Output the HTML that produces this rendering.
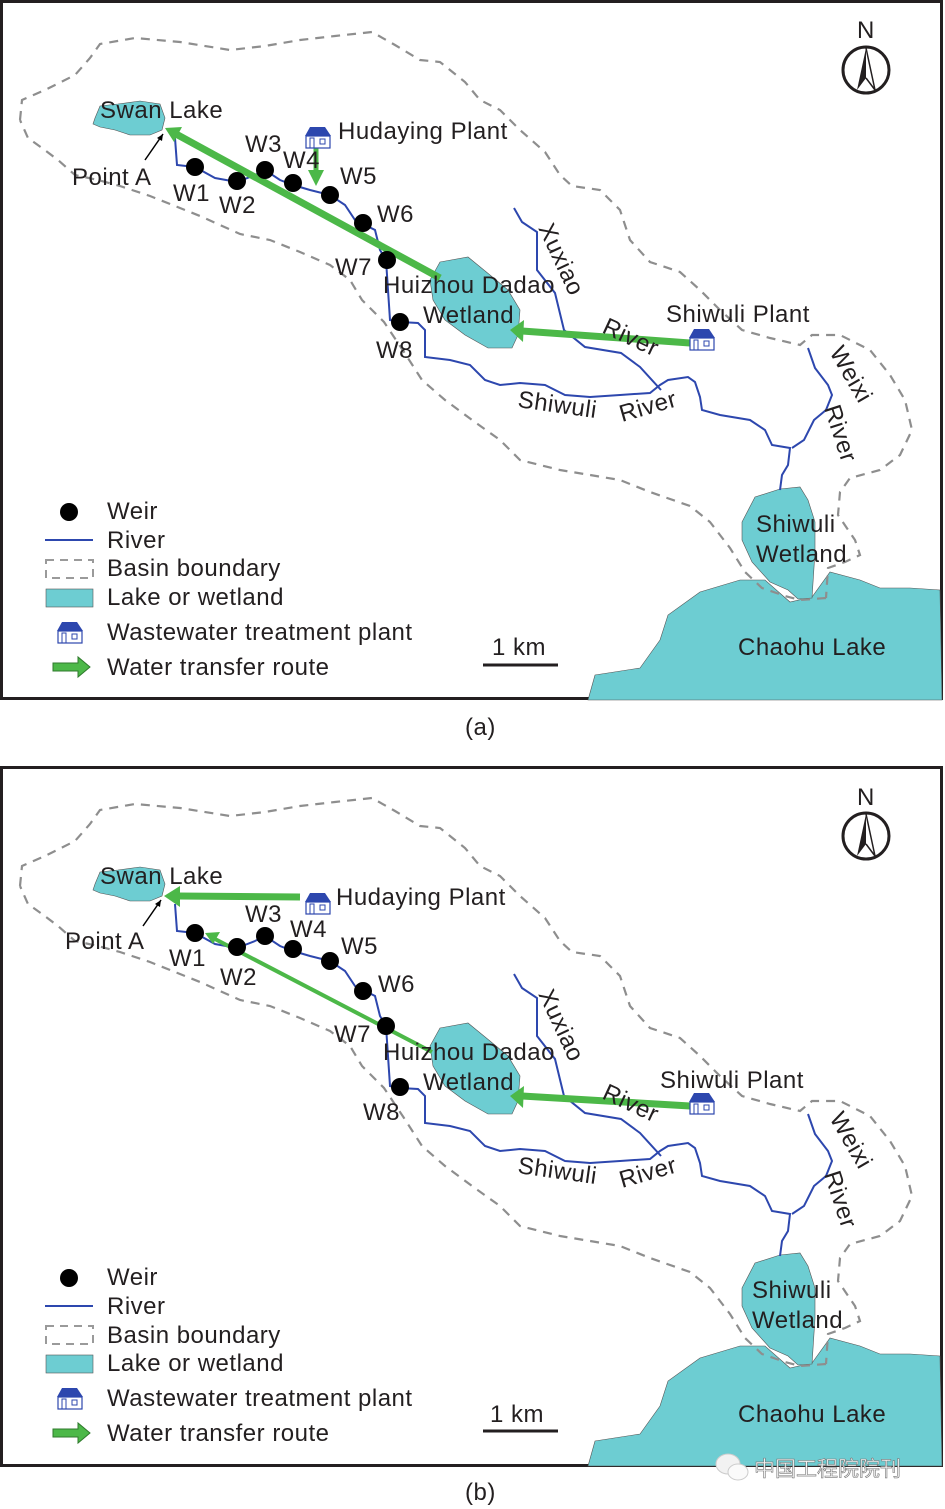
<!DOCTYPE html>
<html><head><meta charset="utf-8"><style>
html,body{margin:0;padding:0;background:#fff;}
svg{display:block;font-family:"Liberation Sans","Noto Sans CJK SC",sans-serif;}
text{fill:#231f20;font-size:24px;letter-spacing:0.5px;}
</style></head><body>
<svg width="945" height="1509" viewBox="0 0 945 1509" xmlns="http://www.w3.org/2000/svg">
<defs>
<g id="base">
  <path d="M588,700 L595,675 L640,668 L660,640 L668,615 L700,592 L740,580 L765,580 L790,602 L812,597 L830,572 L860,580 L880,588 L910,588 L940,590 L942,700 Z" fill="#6dcdd2" stroke="#555" stroke-width="0.6"/>
  <path d="M742,522 L755,497 L780,489 L800,487 L808,500 L815,522 L815,552 L812,598 L798,599 L788,590 L770,582 L752,562 L742,540 Z" fill="#6dcdd2" stroke="#555" stroke-width="0.6"/>
  <path d="M440,262 L468,257 L490,275 L508,290 L520,310 L518,335 L512,348 L488,348 L465,335 L445,320 L433,300 L430,280 Z" fill="#6dcdd2" stroke="#555" stroke-width="0.6"/>
  <path d="M95,118 L100,106 L118,104 L140,101 L160,104 L165,118 L162,130 L150,135 L130,135 L115,130 L100,127 L93,124 Z" fill="#6dcdd2" stroke="#555" stroke-width="0.6"/>
  <path d="M20,120 L22,100 L45,90 L75,75 L90,58 L100,44 L135,38 L180,42 L230,50 L265,46 L300,40 L335,36 L372,32 L395,45 L420,60 L440,62 L465,82 L480,100 L500,110 L520,130 L545,152 L560,175 L572,186 L600,190 L620,210 L630,240 L650,262 L680,272 L700,290 L720,310 L742,330 L770,338 L800,345 L812,335 L840,335 L870,350 L890,375 L905,400 L912,430 L900,455 L880,470 L850,478 L840,492 L838,515 L855,540 L860,555 L845,562 L828,568 L826,598 M826,598 L800,600 L785,596 L762,588 L745,572 L730,548 L710,522 L690,506 L650,492 L620,480 L560,470 L520,460 L500,440 L472,420 L445,400 L422,380 L404,352 L384,322 L362,300 L350,280 L330,265 L300,252 L270,240 L240,234 L200,216 L150,196 L120,186 L98,180 L75,175 L58,160 L42,148 L28,138 L20,120" fill="none" stroke="#8e8e8e" stroke-width="2.2" stroke-dasharray="9,7"/>
  <g fill="none" stroke="#2d47ae" stroke-width="2">
    <path d="M175,138 L177,165 L195,167 L215,178 L237,182 L255,175 L265,170 L280,180 L293,185 L310,190 L330,195 L345,205 L355,220 L365,225 L375,230 L380,250 L386,260 L388,290 L390,320 L400,322 L418,323 L425,330 L425,357 L450,360 L470,365 L485,380 L500,385 L520,383 L545,385 L565,395 L590,397 L620,395 L650,393 L660,385 L668,380 L688,377 L695,382 L700,397 L702,410 L720,415 L750,420 L765,430 L772,445 L790,448 L788,465 L782,475 L780,490"/>
    <path d="M514,208 L522,222 L537,232 L537,270 L555,293 L564,330 L585,347 L621,353 L640,367 L661,390"/>
    <path d="M808,348 L815,368 L828,385 L832,395 L826,410 L814,420 L804,440 L792,448"/>
  </g>
</g>
<g id="plant">
  <path d="M0,9 L5,0 L20,0 L26,9 Z" fill="#2d47ae"/>
  <rect x="1" y="9" width="24" height="12" fill="#fff" stroke="#2d47ae" stroke-width="1.2"/>
  <rect x="5" y="11" width="4" height="10" fill="none" stroke="#2d47ae" stroke-width="1"/>
  <rect x="15" y="12" width="5" height="5" fill="none" stroke="#2d47ae" stroke-width="1"/>
</g>
<g id="compass">
  <circle cx="866" cy="70" r="23" fill="none" stroke="#231f20" stroke-width="3"/>
  <path d="M866,48 L857,90 L866,78 Z" fill="#231f20"/>
  <path d="M866,48 L875,90 L866,78" fill="none" stroke="#231f20" stroke-width="1.5"/>
</g>
<g id="legend">
  <circle cx="69" cy="512" r="9" fill="#000"/>
  <line x1="45" y1="540" x2="93" y2="540" stroke="#2d47ae" stroke-width="2"/>
  <rect x="46" y="560" width="47" height="18" fill="none" stroke="#9a9a9a" stroke-width="2" stroke-dasharray="8,6"/>
  <rect x="46" y="589" width="47" height="18" fill="#6dcdd2" stroke="#555" stroke-width="0.6"/>
  <use href="#plant" x="57" y="622"/>
  <path d="M53,663 L78,663 L78,657 L90,667 L78,677 L78,671 L53,671 Z" fill="#4cb848" stroke="#2f7a2c" stroke-width="1"/>
  <line x1="483" y1="665" x2="558" y2="665" stroke="#231f20" stroke-width="3"/>
</g>
</defs>

<rect x="1.5" y="1.5" width="940" height="697" fill="none" stroke="#231f20" stroke-width="3"/>
<use href="#base"/>
<use href="#compass"/>
<use href="#legend"/>
<line x1="145" y1="160" x2="163" y2="134" stroke="#000" stroke-width="1.5"/>
<path d="M163,134 L157,138 L162,141 Z" fill="#000"/>
<path d="M440,278 L176,134" stroke="#4cb848" stroke-width="7" fill="none"/>
<path d="M165,128 L182,127 L174,142 Z" fill="#4cb848"/>
<path d="M316,148 L316,172" stroke="#4cb848" stroke-width="5"/>
<path d="M308,170 L324,170 L316,186 Z" fill="#4cb848"/>
<path d="M690,343 L522,331" stroke="#4cb848" stroke-width="7" fill="none"/>
<path d="M510,330 L524,320 L523,342 Z" fill="#4cb848"/>
<use href="#plant" x="305" y="127"/>
<use href="#plant" x="689" y="329"/>
<g fill="#000">
<circle cx="195" cy="167" r="9"/><circle cx="237" cy="181" r="9"/><circle cx="265" cy="170" r="9"/><circle cx="293" cy="183" r="9"/><circle cx="330" cy="195" r="9"/><circle cx="363" cy="223" r="9"/><circle cx="387" cy="260" r="9"/><circle cx="400" cy="322" r="9"/>
</g>
<text x="100" y="118">Swan Lake</text>
<text x="338" y="139">Hudaying Plant</text>
<text x="72" y="185">Point A</text>
<text x="245" y="152">W3</text><text x="283" y="168">W4</text><text x="340" y="184">W5</text><text x="377" y="222">W6</text><text x="335" y="275">W7</text><text x="173" y="201">W1</text><text x="219" y="213">W2</text><text x="376" y="358">W8</text>
<text x="383" y="293">Huizhou Dadao</text><text x="423" y="323">Wetland</text>
<text x="666" y="322">Shiwuli Plant</text>
<text transform="translate(538,228) rotate(65)">Xuxiao</text>
<text transform="translate(601,332) rotate(25)">River</text>
<text transform="translate(517,407) rotate(8)">Shiwuli</text>
<text transform="translate(622,422) rotate(-16)">River</text>
<text transform="translate(829,352) rotate(60)">Weixi</text>
<text transform="translate(824,408) rotate(72)">River</text>
<text x="756" y="532">Shiwuli</text><text x="756" y="562">Wetland</text>
<text x="738" y="655">Chaohu Lake</text>
<text x="857" y="38">N</text>
<text x="107" y="519">Weir</text><text x="107" y="548">River</text><text x="107" y="576">Basin boundary</text><text x="107" y="605">Lake or wetland</text><text x="107" y="640">Wastewater treatment plant</text><text x="107" y="675">Water transfer route</text>
<text x="492" y="655">1 km</text>
<text x="465" y="735" font-size="25">(a)</text>

<g transform="translate(0,766)">
<rect x="1.5" y="1.5" width="940" height="698" fill="none" stroke="#231f20" stroke-width="3"/>
<use href="#base"/>
<use href="#compass"/>
<use href="#legend"/>
<line x1="143" y1="160" x2="161" y2="134" stroke="#000" stroke-width="1.5"/>
<path d="M161,134 L155,138 L160,141 Z" fill="#000"/>
<path d="M300,131 L178,130" stroke="#4cb848" stroke-width="7" fill="none"/>
<path d="M164,130 L180,120 L180,141 Z" fill="#4cb848"/>
<path d="M432,286 L215,173" stroke="#4cb848" stroke-width="4" fill="none"/>
<path d="M205,167 L220,166 L213,178 Z" fill="#4cb848"/>
<path d="M690,340 L522,330" stroke="#4cb848" stroke-width="7" fill="none"/>
<path d="M510,330 L524,320 L523,342 Z" fill="#4cb848"/>
<use href="#plant" x="305" y="127"/>
<use href="#plant" x="689" y="327"/>
<g fill="#000">
<circle cx="195" cy="167" r="9"/><circle cx="237" cy="181" r="9"/><circle cx="265" cy="170" r="9"/><circle cx="293" cy="183" r="9"/><circle cx="330" cy="195" r="9"/><circle cx="363" cy="225" r="9"/><circle cx="386" cy="260" r="9"/><circle cx="400" cy="321" r="9"/>
</g>
<text x="100" y="118">Swan Lake</text>
<text x="336" y="139">Hudaying Plant</text>
<text x="65" y="183">Point A</text>
<text x="245" y="156">W3</text><text x="290" y="171">W4</text><text x="341" y="188">W5</text><text x="378" y="226">W6</text><text x="334" y="276">W7</text><text x="169" y="200">W1</text><text x="220" y="219">W2</text><text x="363" y="354">W8</text>
<text x="383" y="294">Huizhou Dadao</text><text x="423" y="324">Wetland</text>
<text x="660" y="322">Shiwuli Plant</text>
<text transform="translate(538,228) rotate(65)">Xuxiao</text>
<text transform="translate(601,332) rotate(25)">River</text>
<text transform="translate(517,407) rotate(8)">Shiwuli</text>
<text transform="translate(622,422) rotate(-16)">River</text>
<text transform="translate(829,352) rotate(60)">Weixi</text>
<text transform="translate(824,408) rotate(72)">River</text>
<text x="752" y="532">Shiwuli</text><text x="752" y="562">Wetland</text>
<text x="738" y="656">Chaohu Lake</text>
<text x="857" y="39">N</text>
<text x="107" y="519">Weir</text><text x="107" y="548">River</text><text x="107" y="577">Basin boundary</text><text x="107" y="605">Lake or wetland</text><text x="107" y="640">Wastewater treatment plant</text><text x="107" y="675">Water transfer route</text>
<text x="490" y="656">1 km</text>
</g>
<text x="465" y="1500" font-size="25">(b)</text>
<ellipse cx="728" cy="1464" rx="12" ry="10" fill="#f2f2f2" stroke="#ccc"/>
<ellipse cx="738" cy="1472" rx="10" ry="8" fill="#fafafa" stroke="#ccc"/>
<text x="754" y="1476" style="fill:#f4f4f4;stroke:#777;stroke-width:0.6;font-size:21px;letter-spacing:0;">中国工程院院刊</text>
</svg>
</body></html>
